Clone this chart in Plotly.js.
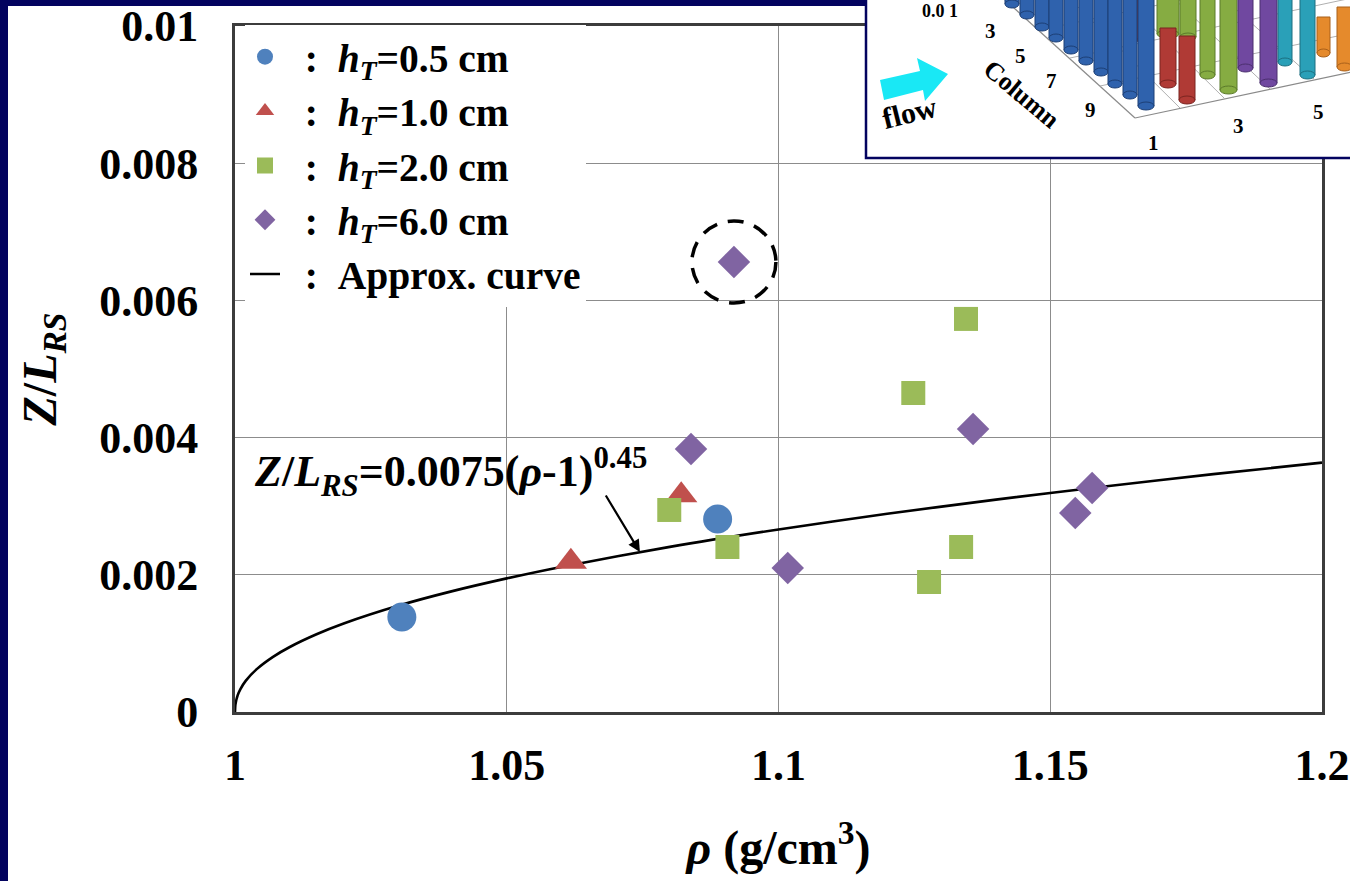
<!DOCTYPE html>
<html>
<head>
<meta charset="utf-8">
<script src="https://cdn.plot.ly/plotly-3.0.1.min.js"></script>
<style>
html,body{margin:0;padding:0;background:#ffffff;overflow:hidden}
#chart{width:1350px;height:881px}
</style>
</head>
<body>
<div id="chart"></div>
<script>
// ---------------- data ----------------
const seriesNames = [
  "\u00a0\u00a0:\u00a0\u00a0<i>h</i><sub><i>T</i></sub>=0.5 cm",
  "\u00a0\u00a0:\u00a0\u00a0<i>h</i><sub><i>T</i></sub>=1.0 cm",
  "\u00a0\u00a0:\u00a0\u00a0<i>h</i><sub><i>T</i></sub>=2.0 cm",
  "\u00a0\u00a0:\u00a0\u00a0<i>h</i><sub><i>T</i></sub>=6.0 cm",
  "\u00a0\u00a0:\u00a0\u00a0Approx. curve"
];
const rho_h05 = [1.0307, 1.0888];
const z_h05   = [0.001385, 0.002813];
const rho_h10 = [1.0618, 1.0821];
const z_h10   = [0.00219, 0.00316];
const rho_h20 = [1.0799, 1.0906, 1.1248, 1.1345, 1.1336, 1.1277];
const z_h20   = [0.002945, 0.002405, 0.00465, 0.00573, 0.002405, 0.001895];
const rho_h60 = [1.0839, 1.0918, 1.1017, 1.1358, 1.1546, 1.1577];
const z_h60   = [0.003834, 0.00656, 0.002099, 0.004125, 0.002901, 0.003265];
const rho_curve = [1, 1.0001, 1.0005, 1.001, 1.002, 1.004, 1.007, 1.01, 1.015, 1.02, 1.03, 1.04, 1.05, 1.06, 1.08, 1.10, 1.12, 1.14, 1.16, 1.18, 1.20];
const z_curve   = [0, 0.000119, 0.000245, 0.000335, 0.000458, 0.000625, 0.000804, 0.000944, 0.001133, 0.00129, 0.001548, 0.001762, 0.001948, 0.002115, 0.002407, 0.002661, 0.002889, 0.003096, 0.003288, 0.003467, 0.003635];
const xTickVals = [1, 1.05, 1.1, 1.15, 1.2];
const xTickText = ["1", "1.05", "1.1", "1.15", "1.2"];
const yTickVals = [0, 0.002, 0.004, 0.006, 0.008, 0.01];
const yTickText = ["0", "0.002", "0.004", "0.006", "0.008", "0.01"];
const highlightIndex = 1; // circled point of the h_T = 6.0 cm series

// ---------------- styles ----------------
const SERIF = "Liberation Serif, Times New Roman, serif";
const NAVY = "#03035f";
const COLORS = {blue: "#4f81bd", red: "#c0504d", green: "#9bbb59", purple: "#8064a2"};

// pixel -> paper helpers (plot area: x 235..1322, y 26..712)
const PX = px => (px - 235) / 1087;
const PY = py => (712 - py) / 686;

const traces = [
  {x: rho_curve, y: z_curve, mode: "lines", name: seriesNames[4], legendrank: 5,
   line: {color: "#000000", width: 2.6, shape: "spline", smoothing: 0.8}},
  {x: rho_h05, y: z_h05, mode: "markers", name: seriesNames[0], legendrank: 1,
   marker: {symbol: "circle", size: 29, color: COLORS.blue}},
  {x: rho_h10, y: z_h10, mode: "markers", name: seriesNames[1], legendrank: 2,
   marker: {symbol: "triangle-up", size: 28, color: COLORS.red}},
  {x: rho_h20, y: z_h20, mode: "markers", name: seriesNames[2], legendrank: 3,
   marker: {symbol: "square", size: 24, color: COLORS.green}},
  {x: rho_h60, y: z_h60, mode: "markers", name: seriesNames[3], legendrank: 4,
   marker: {symbol: "diamond", size: 25, color: COLORS.purple}}
];

// ---------------- inset picture (decoration, pixel geometry) ----------------
function rectP(x0, y0, x1, y1, fill, line) {
  return {type: "rect", xref: "paper", yref: "paper", layer: "above",
    x0: PX(x0), x1: PX(x1), y0: PY(y1), y1: PY(y0),
    fillcolor: fill, line: line || {width: 0}};
}
function lineP(x0, y0, x1, y1, color, w) {
  return {type: "line", xref: "paper", yref: "paper", layer: "above",
    x0: PX(x0), x1: PX(x1), y0: PY(y0), y1: PY(y1), line: {color: color, width: w}};
}
function ellP(x0, y0, x1, y1, fill, lc) {
  return {type: "circle", xref: "paper", yref: "paper", layer: "above",
    x0: PX(x0), x1: PX(x1), y0: PY(y1), y1: PY(y0), fillcolor: fill, line: {color: lc, width: 1}};
}
function pathP(pts, fill) {
  const d = pts.map((p, i) => (i ? "L" : "M") + PX(p[0]).toFixed(5) + "," + PY(p[1]).toFixed(5)).join(" ") + " Z";
  return {type: "path", xref: "paper", yref: "paper", layer: "above", path: d, fillcolor: fill, line: {width: 0}};
}
function cyl(x0, x1, top, bottom, fill, edge) {
  return [rectP(x0, top, x1, bottom, fill, {color: edge, width: 1}), ellP(x0, bottom - 4, x1, bottom + 4, fill, edge)];
}

const insetCylinders = [
  [1137, 1153, -2, 40, "#b03a35", "#7a2420"],
  [1157, 1179, -2, 34, "#86ac42", "#5b7a2a"],
  [1180, 1196, -2, 37, "#86ac42", "#5b7a2a"],
  [1005, 1019, -2, 4, "#2f62ad", "#1d3f75"],
  [1020, 1034, -2, 15, "#2f62ad", "#1d3f75"],
  [1035, 1049, -2, 27, "#2f62ad", "#1d3f75"],
  [1049, 1063, -2, 38, "#2f62ad", "#1d3f75"],
  [1064, 1078, -2, 50, "#2f62ad", "#1d3f75"],
  [1079, 1093, -2, 61, "#2f62ad", "#1d3f75"],
  [1094, 1108, -2, 72, "#2f62ad", "#1d3f75"],
  [1108, 1122, -2, 84, "#2f62ad", "#1d3f75"],
  [1123, 1137, -2, 95, "#2f62ad", "#1d3f75"],
  [1138, 1154, -2, 106, "#2f62ad", "#1d3f75"],
  [1160, 1176, 28, 84, "#b03a35", "#7a2420"],
  [1179, 1195, 36, 100, "#b03a35", "#7a2420"],
  [1200, 1215, -2, 75, "#86ac42", "#5b7a2a"],
  [1220, 1237, -2, 90, "#86ac42", "#5b7a2a"],
  [1238, 1253, -2, 68, "#7048a0", "#4b2f6e"],
  [1260, 1277, -2, 83, "#7048a0", "#4b2f6e"],
  [1278, 1292, -2, 62, "#2aa0b8", "#1c6f80"],
  [1300, 1315, -2, 75, "#2aa0b8", "#1c6f80"],
  [1317, 1330, 17, 53, "#e58a2c", "#a9601a"],
  [1337, 1352, 7, 67, "#e58a2c", "#a9601a"]
];

let shapes = [
  // navy slide frame
  rectP(-2, -2, 8, 884, NAVY),
  rectP(-2, -2, 866, 6, NAVY),
  // highlighted point (dashed circle)
  {type: "circle", xref: "x", yref: "y", layer: "above",
   xsizemode: "pixel", ysizemode: "pixel",
   xanchor: rho_h60[highlightIndex], yanchor: z_h60[highlightIndex],
   x0: -42, x1: 42, y0: -41, y1: 41,
   line: {color: "#000000", width: 3.5, dash: "16px,11px"}},
  // inset panel
  rectP(866, -4, 1354, 158, "#ffffff", {color: NAVY, width: 2.5}),
  // floor grid
  lineP(1003, -2, 1135, 118, "#8a8a8a", 1.2),
  lineP(1135, 118, 1352, 72, "#8a8a8a", 1.2),
  lineP(1040, 30, 1352, -36, "#b0b0b0", 1),
  lineP(1070, 58, 1352, -2, "#b0b0b0", 1),
  lineP(1100, 86, 1352, 33, "#b0b0b0", 1),
  lineP(1180, 108, 1075, 4, "#b0b0b0", 1),
  lineP(1225, 99, 1120, -5, "#b0b0b0", 1),
  lineP(1270, 89, 1170, -5, "#b0b0b0", 1),
  lineP(1315, 80, 1220, -5, "#b0b0b0", 1),
  // flow arrow
  pathP([[880, 80], [920, 71], [917, 58], [948, 74], [925, 101], [923, 90], [884, 100]], "#19e8f5")
];
insetCylinders.forEach(c => { shapes = shapes.concat(cyl(c[0], c[1], c[2], c[3], c[4], c[5])); });

function txt(px, py, text, size, angle) {
  return {xref: "paper", yref: "paper", x: PX(px), y: PY(py), text: text, showarrow: false,
    xanchor: "center", yanchor: "middle", textangle: angle || 0,
    font: {family: SERIF, size: size, color: "#000000", weight: "bold"}};
}

const annotations = [
  // fitted-curve label and arrow
  {xref: "x", yref: "y", x: 1 + (252 - 235) / 5435, y: (712 - 472) / 68600, xanchor: "left", yanchor: "middle",
   text: "<i>Z</i>/<i>L</i><sub><i>RS</i></sub>=0.0075(<i>ρ</i>-1)<sup>0.45</sup>", showarrow: false,
   font: {family: SERIF, size: 44, color: "#000000", weight: "bold"}},
  {xref: "x", yref: "y", x: 1.0745, y: 0.002332, ax: -35, ay: -58, text: "", showarrow: true,
   arrowhead: 2, arrowsize: 1.1, arrowwidth: 2.2, arrowcolor: "#000000"},
  // inset texts
  txt(940, 11, "0.0 1", 18, 0),
  txt(990, 31, "3", 21, 0),
  txt(1020, 56, "5", 21, 0),
  txt(1051, 81, "7", 21, 0),
  txt(1090, 110, "9", 21, 0),
  txt(1022, 94, "Column", 26, 40),
  txt(909, 113, "flow", 30, -14),
  txt(1153, 143, "1", 21, 0),
  txt(1238, 126, "3", 21, 0),
  txt(1318, 112, "5", 21, 0)
];

const layout = {
  width: 1350, height: 881,
  margin: {l: 235, r: 28, t: 26, b: 169, pad: 0},
  paper_bgcolor: "#ffffff", plot_bgcolor: "#ffffff",
  font: {family: SERIF, size: 20, color: "#000000"},
  showlegend: true,
  legend: {x: PX(245), y: PY(24.5), xanchor: "left", yanchor: "top",
    bgcolor: "#ffffff", borderwidth: 0, itemsizing: "trace",
    font: {family: SERIF, size: 39.5, color: "#000000", weight: "bold"}},
  xaxis: {range: [1, 1.2], tickmode: "array", tickvals: xTickVals, ticktext: xTickText,
    showgrid: true, gridcolor: "#8c8c8c", gridwidth: 1.2, zeroline: false,
    showline: true, linecolor: "#3c3c3c", linewidth: 3, mirror: true, ticks: "",
    ticklabelstandoff: 12,
    tickfont: {family: SERIF, size: 44, color: "#000000", weight: "bold"},
    title: {text: "<i>ρ</i> (g/cm<sup>3</sup>)", standoff: 42,
      font: {family: SERIF, size: 48, color: "#000000", weight: "bold"}}},
  yaxis: {range: [0, 0.01], tickmode: "array", tickvals: yTickVals, ticktext: yTickText,
    showgrid: true, gridcolor: "#8c8c8c", gridwidth: 1.2, zeroline: false,
    showline: true, linecolor: "#3c3c3c", linewidth: 3, mirror: true, ticks: "",
    ticklabelstandoff: 25,
    tickfont: {family: SERIF, size: 44, color: "#000000", weight: "bold"},
    title: {text: "<i>Z</i>/<i>L</i><sub><i>RS</i></sub>", standoff: 28,
      font: {family: SERIF, size: 48, color: "#000000", weight: "bold"}}},
  shapes: shapes,
  annotations: annotations
};

Plotly.newPlot("chart", traces, layout, {displayModeBar: false, staticPlot: true});
</script>
</body>
</html>
